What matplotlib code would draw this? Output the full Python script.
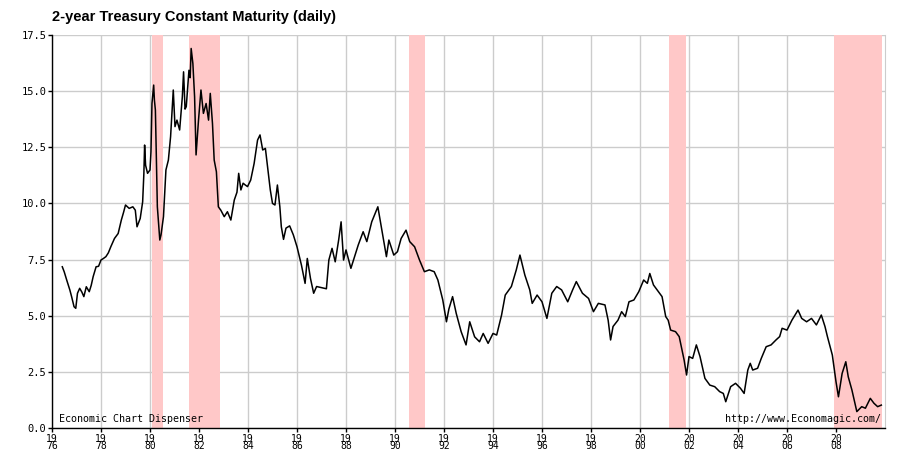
import matplotlib
matplotlib.use("Agg")
import matplotlib.pyplot as plt

# decimal year, 2-year yield (%)
years = [1976.42, 1976.5, 1976.6, 1976.73, 1976.8, 1976.9, 1976.97, 1977.04, 1977.13, 1977.22,
         1977.3, 1977.4, 1977.52, 1977.6, 1977.68, 1977.8, 1977.9, 1978.0, 1978.1, 1978.2,
         1978.3, 1978.4, 1978.55, 1978.7, 1978.83, 1978.92, 1979.0, 1979.15, 1979.3, 1979.4,
         1979.47, 1979.6, 1979.7, 1979.75, 1979.78, 1979.82, 1979.9, 1980.0, 1980.04, 1980.08,
         1980.15, 1980.18, 1980.22, 1980.3, 1980.4, 1980.45, 1980.5, 1980.55, 1980.65, 1980.75,
         1980.84, 1980.95, 1981.02, 1981.1, 1981.21, 1981.32, 1981.37, 1981.43, 1981.48, 1981.59,
         1981.64, 1981.68, 1981.75, 1981.82, 1981.88, 1981.98, 1982.08, 1982.18, 1982.29, 1982.39,
         1982.46, 1982.55, 1982.62, 1982.71, 1982.79, 1982.89, 1983.03, 1983.16, 1983.3, 1983.44,
         1983.55, 1983.62, 1983.71, 1983.8, 1983.89, 1983.98, 1984.11, 1984.25, 1984.39, 1984.49,
         1984.6, 1984.71, 1984.8, 1984.91, 1985.0, 1985.1, 1985.2, 1985.3, 1985.36, 1985.45,
         1985.55, 1985.7, 1985.85, 1986.0, 1986.18, 1986.33, 1986.42, 1986.55, 1986.68, 1986.8,
         1987.0, 1987.2, 1987.3, 1987.43, 1987.56, 1987.7, 1987.8, 1987.9, 1988.0, 1988.2,
         1988.35, 1988.5, 1988.7, 1988.85, 1989.05, 1989.3, 1989.45, 1989.65, 1989.75, 1989.95,
         1990.1, 1990.25, 1990.45, 1990.6, 1990.8, 1991.0, 1991.2, 1991.4, 1991.6, 1991.75,
         1991.95, 1992.1, 1992.2, 1992.35, 1992.5, 1992.7, 1992.9, 1993.05, 1993.25, 1993.45,
         1993.6, 1993.8, 1994.0, 1994.15, 1994.35, 1994.5, 1994.75, 1994.95, 1995.1, 1995.3,
         1995.5, 1995.6, 1995.8, 1996.0, 1996.2, 1996.4, 1996.6, 1996.8, 1997.05, 1997.25,
         1997.4, 1997.65, 1997.9, 1998.1, 1998.3, 1998.57, 1998.7, 1998.8, 1998.9, 1999.1,
         1999.25, 1999.4, 1999.55, 1999.75, 1999.95, 2000.15, 2000.3, 2000.4, 2000.55, 2000.75,
         2000.9, 2001.05, 2001.15, 2001.25, 2001.45, 2001.6, 2001.8, 2001.9, 2002.0, 2002.15,
         2002.3, 2002.45, 2002.65, 2002.85, 2003.05, 2003.25, 2003.4, 2003.5, 2003.7, 2003.9,
         2004.1, 2004.25, 2004.4, 2004.5, 2004.6, 2004.8, 2004.95, 2005.15, 2005.35, 2005.55,
         2005.7, 2005.8, 2006.0, 2006.2, 2006.45, 2006.6, 2006.8, 2007.0, 2007.2, 2007.4,
         2007.55, 2007.65, 2007.85, 2008.0, 2008.1, 2008.25, 2008.4, 2008.5, 2008.65, 2008.85,
         2009.05, 2009.2, 2009.4, 2009.55, 2009.7, 2009.85]
yields = [7.18, 6.95, 6.59, 6.14, 5.85, 5.4, 5.33, 6.0, 6.22, 6.05,
          5.85, 6.29, 6.07, 6.35, 6.74, 7.18, 7.2, 7.48, 7.55, 7.63,
          7.8, 8.07, 8.44, 8.66, 9.26, 9.6, 9.93, 9.78, 9.85, 9.7,
          8.96, 9.33, 10.07, 11.34, 12.6, 11.7, 11.34, 11.49, 12.3, 14.45,
          15.27, 14.6, 14.16, 9.85, 8.37, 8.6, 9.0, 9.41, 11.49, 11.93,
          12.97, 15.05, 13.42, 13.71, 13.27, 14.75, 15.86, 14.2, 14.31, 15.93,
          15.6, 16.9, 16.23, 14.75, 12.16, 13.71, 15.05, 14.01, 14.45, 13.71,
          14.9, 13.56, 11.93, 11.41, 9.85, 9.7, 9.41, 9.63, 9.26, 10.15,
          10.5, 11.34, 10.6, 10.9, 10.82, 10.75, 11.04, 11.78, 12.82, 13.05,
          12.38, 12.45, 11.63, 10.6, 10.0, 9.93, 10.82, 9.85, 8.96, 8.4,
          8.9, 9.0, 8.6, 8.07, 7.26, 6.44, 7.55, 6.66, 6.0, 6.3,
          6.25, 6.2, 7.48, 8.0, 7.4, 8.37, 9.18, 7.48, 7.93, 7.11,
          7.63, 8.15, 8.74, 8.3, 9.18, 9.85, 8.89, 7.63, 8.37, 7.7,
          7.85, 8.44, 8.81, 8.3, 8.07, 7.48, 6.96, 7.04, 6.96, 6.59,
          5.7, 4.73, 5.3, 5.85, 5.1, 4.29, 3.7, 4.73, 4.06, 3.84,
          4.21, 3.77, 4.21, 4.14, 5.03, 5.92, 6.3, 7.04, 7.7, 6.81,
          6.15, 5.55, 5.92, 5.62, 4.88, 6.0, 6.3, 6.15, 5.62, 6.15,
          6.52, 6.0, 5.77, 5.18, 5.55, 5.48, 4.8, 3.92, 4.52, 4.8,
          5.18, 4.96, 5.62, 5.7, 6.07, 6.59, 6.44, 6.88, 6.37, 6.07,
          5.85, 4.96, 4.8, 4.36, 4.29, 4.07, 3.03, 2.36, 3.18, 3.1,
          3.7, 3.18, 2.21, 1.91, 1.84, 1.62, 1.54, 1.17, 1.84, 1.99,
          1.77, 1.54, 2.58, 2.88, 2.58, 2.66, 3.1, 3.62, 3.7, 3.92,
          4.07, 4.44, 4.36, 4.8, 5.25, 4.88, 4.73, 4.88, 4.59, 5.03,
          4.52, 4.07, 3.25, 2.06, 1.39, 2.43, 2.95, 2.28, 1.69, 0.73,
          0.95, 0.88, 1.32, 1.1, 0.95, 1.02]

# NBER recessions (start, end) in decimal years
rec_start = [1980.08, 1981.59, 1990.57, 2001.18, 2007.93]
rec_end = [1980.53, 1982.84, 1991.22, 2001.88, 2009.88]

xtick_years = list(range(1976, 2010, 2))
ytick_vals = [0.0, 2.5, 5.0, 7.5, 10.0, 12.5, 15.0, 17.5]

fig = plt.figure(figsize=(9, 4.5), dpi=100)
ax = fig.add_axes([52/900, 1 - 428/450, 833/900, 393/450])

for s, e in zip(rec_start, rec_end):
    ax.axvspan(s, e, color="#ffc8c8", lw=0, zorder=1)

ax.plot(years, yields, color="black", lw=1.1, zorder=3)

ax.set_xlim(1976, 2010)
ax.set_ylim(0, 17.5)
ax.set_xticks(xtick_years)
ax.set_xticklabels([f"{str(y)[:2]}\n{str(y)[2:]}" for y in xtick_years],
                   family="DejaVu Sans Mono", fontsize=7, linespacing=0.72)
ax.set_yticks(ytick_vals)
ax.set_yticklabels([f"{v:.1f}" for v in ytick_vals], family="DejaVu Sans Mono", fontsize=7.5)
ax.tick_params(direction="out", length=3, width=1, color="black", pad=1)
ax.grid(True, color="#cccccc", lw=1, zorder=0)
ax.set_axisbelow(True)
ax.spines["top"].set_visible(False)
ax.spines["right"].set_color("#cccccc")
ax.spines["left"].set_linewidth(1)
ax.spines["bottom"].set_linewidth(1)

fig.text(52/900, 1 - 17/450, "2-year Treasury Constant Maturity (daily)",
         family="Liberation Sans", fontsize=10.5, fontweight="bold", va="center", ha="left")
ax.text(1976.3, 0.2, "Economic Chart Dispenser", family="DejaVu Sans Mono",
        fontsize=7.2, va="bottom", ha="left")
ax.text(2009.85, 0.2, "http://www.Economagic.com/", family="DejaVu Sans Mono",
        fontsize=7.2, va="bottom", ha="right")

fig.savefig("out.png", dpi=100)
